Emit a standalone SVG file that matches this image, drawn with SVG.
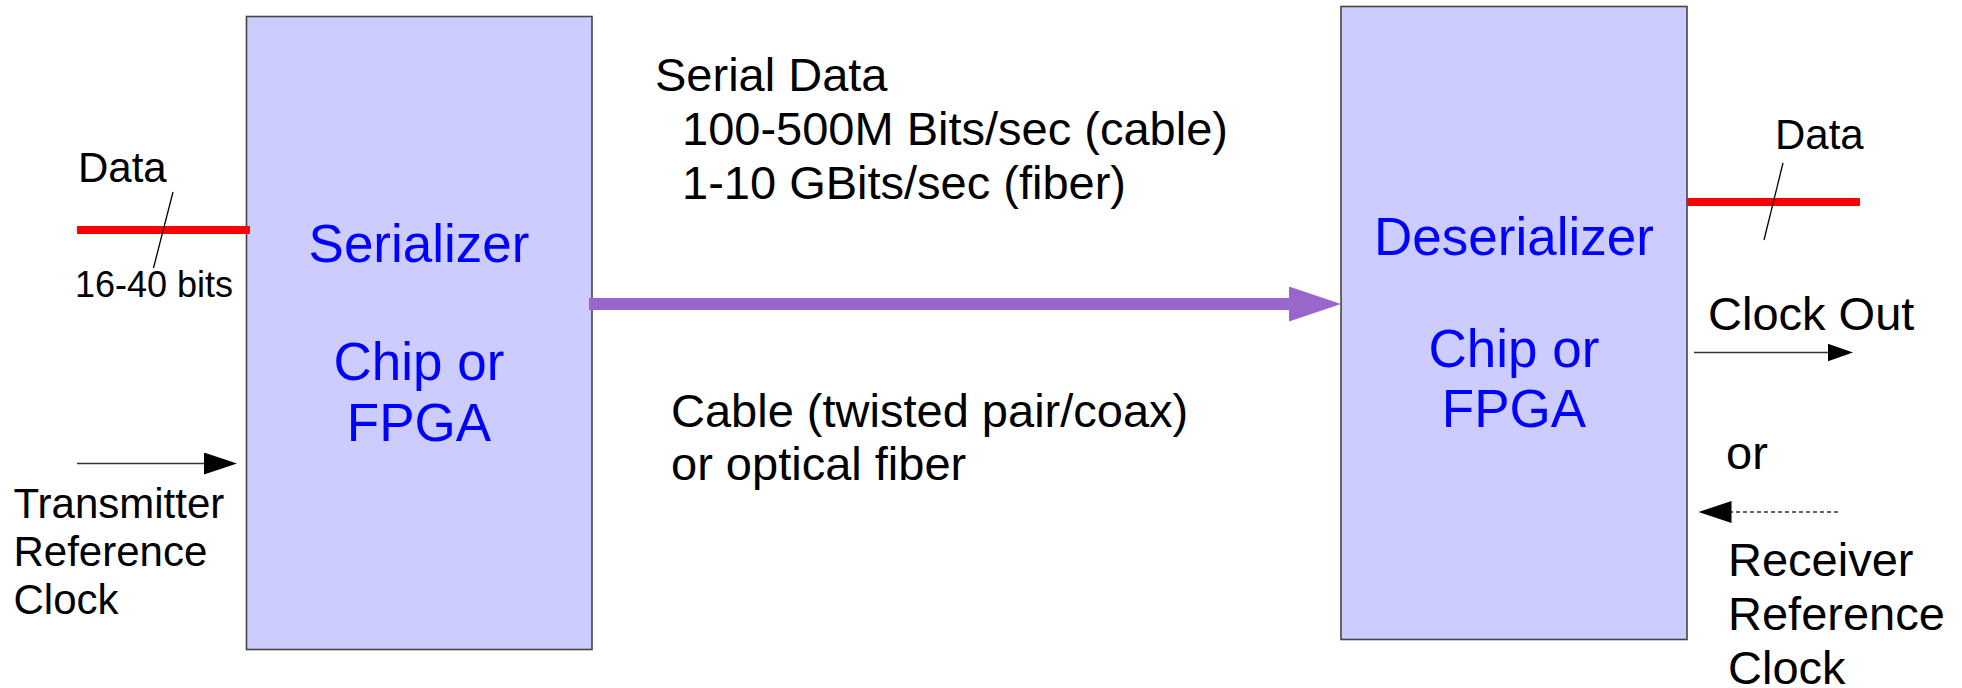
<svg xmlns="http://www.w3.org/2000/svg" width="1962" height="688" viewBox="0 0 1962 688">
  <style>
    .box { fill: #ccccff; stroke: #444444; stroke-width: 1.6; }
    .t { font-family: "Liberation Sans", Arial, sans-serif; fill: #000000; }
    .blue { font-family: "Liberation Sans", Arial, sans-serif; fill: #0000ff; font-size: 53px; text-anchor: middle; }
    .bus { stroke: #ff0000; stroke-width: 8; fill: none; }
    .slash { stroke: #000000; stroke-width: 1.3; fill: none; }
    .clk { stroke: #333333; stroke-width: 1.5; fill: none; }
  </style>
  <defs>
    <marker id="headL" markerUnits="userSpaceOnUse" markerWidth="34" markerHeight="23" refX="2" refY="11" orient="auto">
      <path d="M0,0 L33,11 L0,22 z" fill="#000000"/>
    </marker>
    <marker id="headS" markerUnits="userSpaceOnUse" markerWidth="26" markerHeight="18" refX="2" refY="8.75" orient="auto">
      <path d="M0,0 L25,8.75 L0,17.5 z" fill="#000000"/>
    </marker>
    <marker id="headP" markerUnits="userSpaceOnUse" markerWidth="53" markerHeight="36" refX="2" refY="17.5" orient="auto">
      <path d="M0,0 L52,17.5 L0,35 z" fill="#9966cc"/>
    </marker>
  </defs>

  <g id="serializer">
    <rect class="box" x="246.5" y="16.5" width="345.5" height="633"/>
    <text class="blue" x="419" y="262">Serializer</text>
    <text class="blue" x="419" y="380">Chip or</text>
    <text class="blue" x="419" y="441">FPGA</text>
  </g>

  <g id="deserializer">
    <rect class="box" x="1341" y="6.5" width="346" height="633"/>
    <text class="blue" x="1514" y="254.5">Deserializer</text>
    <text class="blue" x="1514" y="366.5">Chip or</text>
    <text class="blue" x="1514" y="427">FPGA</text>
  </g>

  <g id="connectors">
    <line class="bus" x1="77" y1="230" x2="250" y2="230"/>
    <line class="slash" x1="173" y1="192" x2="153.5" y2="268"/>
    <line class="clk" x1="77" y1="463.5" x2="206" y2="463.5" marker-end="url(#headL)"/>
    <line x1="589" y1="304" x2="1291" y2="304" stroke="#9966cc" stroke-width="12" marker-end="url(#headP)"/>
    <line class="bus" x1="1687" y1="202" x2="1860" y2="202"/>
    <line class="slash" x1="1783" y1="163" x2="1764" y2="240"/>
    <line class="clk" x1="1694" y1="352.5" x2="1830" y2="352.5" marker-end="url(#headS)"/>
    <line class="clk" x1="1838" y1="512" x2="1729.5" y2="512" stroke-dasharray="4,3" stroke-width="1.2" marker-end="url(#headL)"/>
  </g>

  <g id="labels">
    <text class="t" x="78" y="182" font-size="42">Data</text>
    <text class="t" x="75" y="297" font-size="36">16-40 bits</text>
    <text class="t" x="13.5" y="518" font-size="42">Transmitter</text>
    <text class="t" x="13.5" y="566" font-size="42">Reference</text>
    <text class="t" x="13.5" y="614" font-size="42">Clock</text>

    <text class="t" x="655" y="90.5" font-size="47">Serial Data</text>
    <text class="t" x="682" y="145" font-size="47">100-500M Bits/sec (cable)</text>
    <text class="t" x="682" y="199" font-size="47">1-10 GBits/sec (fiber)</text>
    <text class="t" x="671" y="427" font-size="47">Cable (twisted pair/coax)</text>
    <text class="t" x="671" y="480" font-size="47">or optical fiber</text>

    <text class="t" x="1775" y="149" font-size="42">Data</text>
    <text class="t" x="1708" y="330" font-size="47">Clock Out</text>
    <text class="t" x="1726" y="469" font-size="47">or</text>
    <text class="t" x="1728" y="576" font-size="47">Receiver</text>
    <text class="t" x="1728" y="630" font-size="47">Reference</text>
    <text class="t" x="1728" y="684" font-size="47">Clock</text>
  </g>
</svg>
